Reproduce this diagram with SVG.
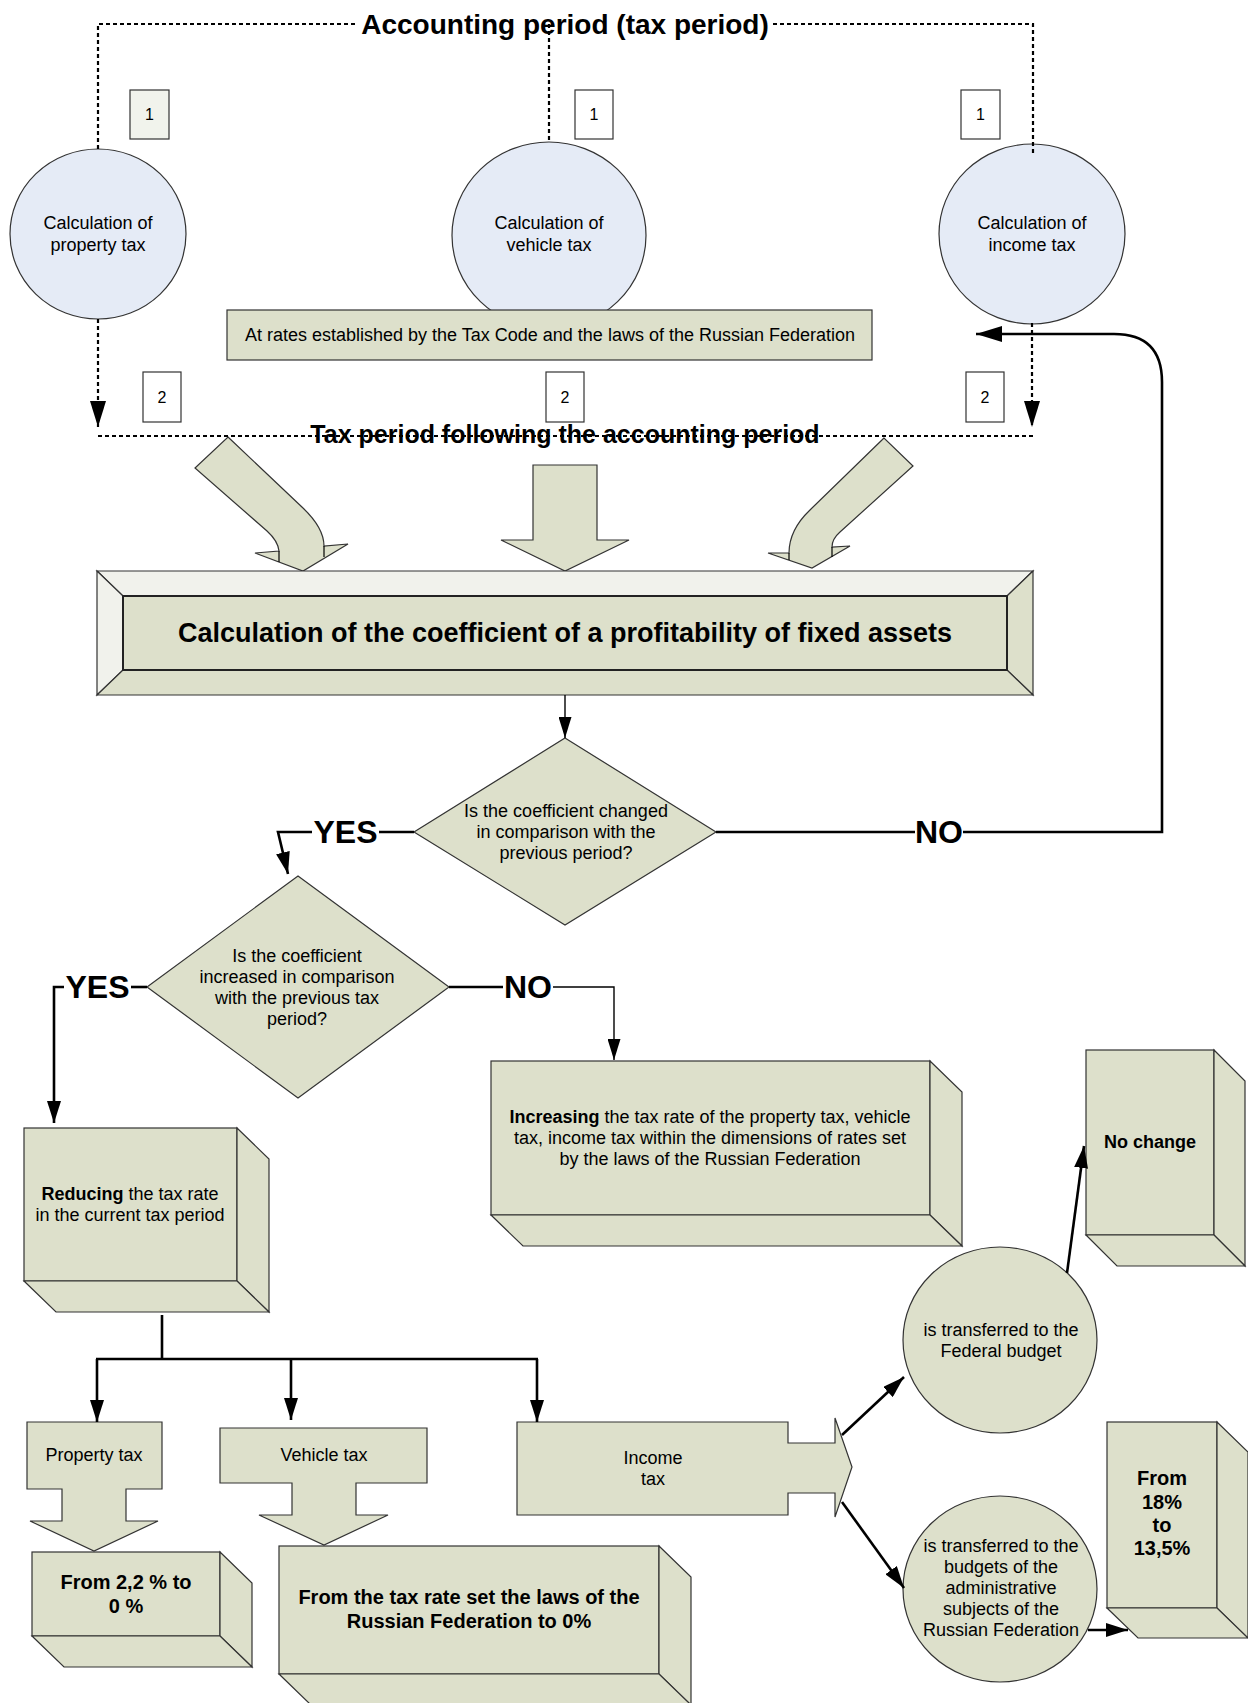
<svg xmlns="http://www.w3.org/2000/svg" width="1248" height="1703" viewBox="0 0 1248 1703">
<defs>
<style>
text{font-family:"Liberation Sans",Arial,sans-serif;fill:#000}
.t{font-size:18px;text-anchor:middle;dominant-baseline:central}
.n{font-size:16px;text-anchor:middle;dominant-baseline:central}
.b{font-weight:bold}
.bt{font-size:20px;font-weight:bold;text-anchor:middle;dominant-baseline:central}
.lbl{font-size:32px;font-weight:bold;text-anchor:middle;dominant-baseline:central}
.hdr{font-weight:bold;text-anchor:middle;dominant-baseline:central}
.shape{fill:#dde0cb;stroke:#333;stroke-width:1.2;stroke-linejoin:miter}
.light{fill:#f1f2ec;stroke:#333;stroke-width:1.2}
.blue{fill:#e5ebf6;stroke:#333;stroke-width:1.2}
.num{fill:#fff;stroke:#333;stroke-width:1.2}
.dot{fill:none;stroke:#000;stroke-width:2.2;stroke-dasharray:4 3}
.thick{fill:none;stroke:#000;stroke-width:2.6}
.thin{fill:none;stroke:#000;stroke-width:1.4}
.tick{fill:none;stroke:#000;stroke-width:1.2}
</style>
<marker id="ah" markerUnits="userSpaceOnUse" markerWidth="22" markerHeight="14" refX="22" refY="7" orient="auto"><path d="M0,0 L22,7 L0,14 z" fill="#000"/></marker>
<marker id="ahl" markerUnits="userSpaceOnUse" markerWidth="26" markerHeight="16" refX="26" refY="8" orient="auto"><path d="M0,0 L26,8 L0,16 z" fill="#000"/></marker>
<marker id="ahs" markerUnits="userSpaceOnUse" markerWidth="21" markerHeight="13" refX="21" refY="6.5" orient="auto"><path d="M0,0 L21,6.5 L0,13 z" fill="#000"/></marker>
</defs>
<rect x="0" y="0" width="1248" height="1703" fill="#fff"/>

<g id="nodes">
<g id="e-property"><ellipse class="blue" cx="98" cy="234" rx="88" ry="85"/><text class="t" x="98" y="223">Calculation of</text><text class="t" x="98" y="245">property tax</text></g>
<g id="e-vehicle"><ellipse class="blue" cx="549" cy="235.5" rx="97" ry="93.5"/><text class="t" x="549" y="223">Calculation of</text><text class="t" x="549" y="245">vehicle tax</text></g>
<g id="e-income"><ellipse class="blue" cx="1032" cy="234" rx="93" ry="90"/><text class="t" x="1032" y="223">Calculation of</text><text class="t" x="1032" y="245">income tax</text></g>
<g id="rates"><rect class="shape" x="227" y="310" width="645" height="50"/><text class="t" x="550" y="335">At rates established by the Tax Code and the laws of the Russian Federation</text></g>

<g id="n1a"><rect x="130" y="90" width="39" height="49" fill="#f1f3ec" stroke="#333" stroke-width="1.2"/><text class="n" x="149.5" y="114.5">1</text></g>
<g id="n1b"><rect class="num" x="575" y="90" width="38" height="49"/><text class="n" x="594" y="114.5">1</text></g>
<g id="n1c"><rect class="num" x="961" y="90" width="39" height="49"/><text class="n" x="980.5" y="114.5">1</text></g>
<g id="n2a"><rect class="num" x="143" y="372" width="38" height="50"/><text class="n" x="162" y="397">2</text></g>
<g id="n2b"><rect class="num" x="546" y="372" width="38" height="50"/><text class="n" x="565" y="397">2</text></g>
<g id="n2c"><rect class="num" x="966" y="372" width="38" height="50"/><text class="n" x="985" y="397">2</text></g>

<g id="arrow-left"><path class="shape" d="M228,437 L303,508 Q324,528 324,546 L348,544 L303,571 L255,553 L279,551 Q278,541 267,531 L195,468 Z"/><path class="tick" d="M324,546 V557 M279,551 V562"/></g>
<g id="arrow-mid"><path class="shape" d="M533,465 H597 V540 H629 L565,571 L501,540 H533 Z"/></g>
<g id="arrow-right"><path class="shape" d="M884,438 L810,510 Q789,530 789,553 L768,553 L812,568 L850,546 L832,547 Q832,539 840,532 L913,466 Z"/><path class="tick" d="M789,553 V560 M832,547 V557"/></g>

<g id="coef">
<polygon class="light" points="97,571 1033,571 1007,596 123,596"/>
<polygon class="light" points="97,571 123,596 123,670 97,695"/>
<polygon class="shape" points="1033,571 1033,695 1007,670 1007,596"/>
<polygon class="shape" points="97,695 123,670 1007,670 1033,695"/>
<rect x="123" y="596" width="884" height="74" fill="#dde0cb" stroke="#222" stroke-width="2"/>
<text class="hdr" x="565" y="633" font-size="27">Calculation of the coefficient of a profitability of fixed assets</text>
</g>

<g id="d-changed"><polygon class="shape" points="565,738 716,832 565,925 414,832"/>
<text class="t" x="566" y="811">Is the coefficient changed</text><text class="t" x="566" y="832">in comparison with the</text><text class="t" x="566" y="853">previous period?</text></g>
<g id="d-increased"><polygon class="shape" points="298,876 449,987 298,1098 147,987"/>
<text class="t" x="297" y="956">Is the coefficient</text><text class="t" x="297" y="977">increased in comparison</text><text class="t" x="297" y="998">with the previous tax</text><text class="t" x="297" y="1019">period?</text></g>

<g id="b-reducing"><rect class="shape" x="24" y="1128" width="213" height="153"/><polygon class="shape" points="237,1128 269,1159 269,1312 237,1281"/><polygon class="shape" points="24,1281 237,1281 269,1312 56,1312"/>
<text class="t" x="130" y="1194"><tspan class="b">Reducing</tspan> the tax rate</text><text class="t" x="130" y="1215">in the current tax period</text></g>

<g id="b-increasing"><rect class="shape" x="491" y="1061" width="439" height="154"/><polygon class="shape" points="930,1061 962,1092 962,1246 930,1215"/><polygon class="shape" points="491,1215 930,1215 962,1246 523,1246"/>
<text class="t" x="710" y="1117"><tspan class="b">Increasing</tspan> the tax rate of the property tax, vehicle</text><text class="t" x="710" y="1138">tax, income tax within the dimensions of rates set</text><text class="t" x="710" y="1159">by the laws of the Russian Federation</text></g>

<g id="b-nochange"><rect class="shape" x="1086" y="1050" width="128" height="185"/><polygon class="shape" points="1214,1050 1245,1081 1245,1266 1214,1235"/><polygon class="shape" points="1086,1235 1214,1235 1245,1266 1117,1266"/>
<text class="t b" x="1150" y="1142">No change</text></g>

<g id="a-property"><path class="shape" d="M27,1422 H162 V1489 H126 V1521 H158 L94,1551 L30,1521 H62 V1489 H27 Z"/><text class="t" x="94" y="1455">Property tax</text></g>
<g id="a-vehicle"><path class="shape" d="M220,1428 H427 V1483 H356 V1515 H388 L324,1545 L259,1515 H292 V1483 H220 Z"/><text class="t" x="324" y="1455">Vehicle tax</text></g>
<g id="a-income"><path class="shape" d="M517,1422 H788 V1443 H835 V1418 L852,1467 L835,1517 V1493 H788 V1515 H517 Z"/><text class="t" x="653" y="1458">Income</text><text class="t" x="653" y="1479">tax</text></g>

<g id="b-22"><rect class="shape" x="32" y="1552" width="188" height="84"/><polygon class="shape" points="220,1552 252,1583 252,1667 220,1636"/><polygon class="shape" points="32,1636 220,1636 252,1667 64,1667"/>
<text class="bt" x="126" y="1582">From 2,2 % to</text><text class="bt" x="126" y="1606">0 %</text></g>

<g id="b-vehicle0"><rect class="shape" x="279" y="1546" width="380" height="128"/><polygon class="shape" points="659,1546 691,1577 691,1705 659,1674"/><polygon class="shape" points="279,1674 659,1674 691,1705 311,1705"/>
<text class="bt" x="469" y="1597" font-size="20.5">From the tax rate set the laws of the</text><text class="bt" x="469" y="1621" font-size="20.5">Russian Federation to 0%</text></g>

<g id="e-federal"><ellipse class="shape" cx="1000" cy="1340" rx="97" ry="93"/><text class="t" x="1001" y="1330">is transferred to the</text><text class="t" x="1001" y="1351">Federal budget</text></g>
<g id="e-regional"><ellipse class="shape" cx="1000" cy="1589" rx="97" ry="93"/>
<text class="t" x="1001" y="1546">is transferred to the</text><text class="t" x="1001" y="1567">budgets of the</text><text class="t" x="1001" y="1588">administrative</text><text class="t" x="1001" y="1609">subjects of the</text><text class="t" x="1001" y="1630">Russian Federation</text></g>

<g id="b-18"><rect class="shape" x="1107" y="1422" width="110" height="186"/><polygon class="shape" points="1217,1422 1248,1452 1248,1638 1217,1608"/><polygon class="shape" points="1107,1608 1217,1608 1248,1638 1138,1638"/>
<text class="bt" x="1162" y="1478">From</text><text class="bt" x="1162" y="1502">18%</text><text class="bt" x="1162" y="1525">to</text><text class="bt" x="1162" y="1548">13,5%</text></g>

<g id="lbl-accounting"><text class="hdr" x="565" y="24" font-size="28">Accounting period (tax period)</text></g>
<g id="lbl-following"><text class="hdr" x="565" y="434" font-size="25">Tax period following the accounting period</text></g>
</g>

<g id="connectors">
<path class="dot" d="M98,149 V24 H357"/>
<path class="dot" d="M773,24 H1033 V155"/>
<path class="dot" d="M549,24 V142"/>
<path class="dot" d="M98,319 V427" marker-end="url(#ahl)"/>
<path class="dot" d="M1032,323 V427" marker-end="url(#ahl)"/>
<path class="dot" d="M98,436 H1034"/>
<path class="thin" d="M565,695 V738" marker-end="url(#ahs)"/>
<path class="thick" d="M414,832 H379"/>
<path class="thick" d="M312,832 H278 L288,874" marker-end="url(#ah)"/>
<path class="thick" d="M716,832 H915"/>
<path class="thick" d="M963,832 H1162 V382 Q1162,334 1114,334 H976" marker-end="url(#ahl)"/>
<path class="thick" d="M147,987 H131"/>
<path class="thick" d="M64,987 H54 V1123" marker-end="url(#ah)"/>
<path class="thick" d="M449,987 H503"/>
<path class="thin" d="M553,987 H614 V1060" marker-end="url(#ahs)"/>
<path class="thick" d="M162,1315 V1359 M96,1359 H538"/>
<path class="thick" d="M97,1359 V1422" marker-end="url(#ah)"/>
<path class="thick" d="M291,1359 V1420" marker-end="url(#ah)"/>
<path class="thick" d="M537,1359 V1422" marker-end="url(#ah)"/>
<path class="thick" d="M842,1435 L904,1377" marker-end="url(#ah)"/>
<path class="thick" d="M842,1502 L904,1588" marker-end="url(#ah)"/>
<path class="thick" d="M1067,1273 L1084,1146" marker-end="url(#ah)"/>
<path class="thick" d="M1088,1630 H1128" marker-end="url(#ah)"/>
</g>

<g id="yesno">
<text class="lbl" x="345.5" y="832">YES</text>
<text class="lbl" x="939" y="832">NO</text>
<text class="lbl" x="97.5" y="987">YES</text>
<text class="lbl" x="528" y="987">NO</text>
</g>
</svg>
